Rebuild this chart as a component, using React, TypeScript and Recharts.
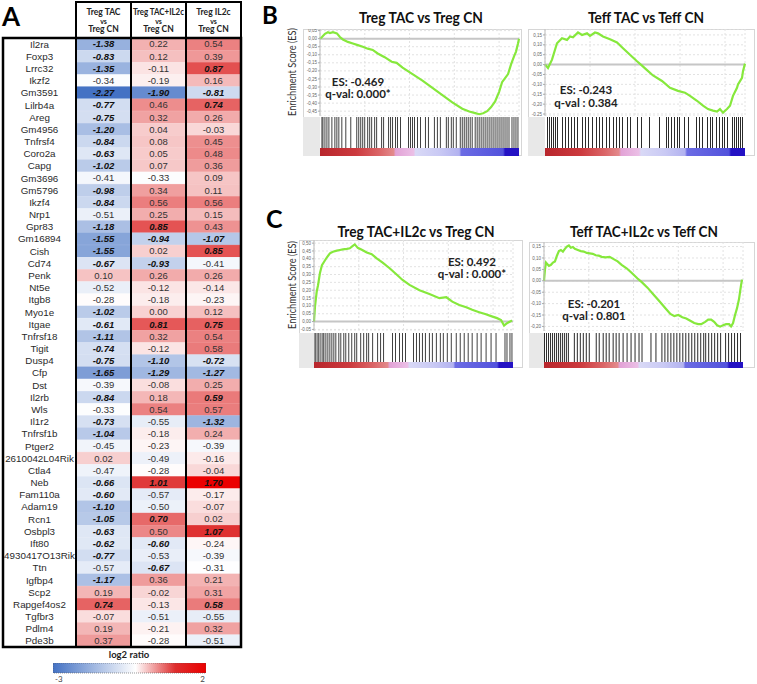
import React from 'react';
import { BarChart, Bar, XAxis, YAxis, LineChart, Line, CartesianGrid, ReferenceLine } from 'recharts';

// ---------------- Heatmap data ----------------
const genes = ['Il2ra','Foxp3','Lrrc32','Ikzf2','Gm3591','Lilrb4a','Areg','Gm4956','Tnfrsf4','Coro2a','Capg','Gm3696','Gm5796','Ikzf4','Nrp1','Gpr83','Gm16894','Cish','Cd74','Penk','Nt5e','Itgb8','Myo1e','Itgae','Tnfrsf18','Tigit','Dusp4','Cfp','Dst','Il2rb','Wls','Il1r2','Tnfrsf1b','Ptger2','2610042L04Rik','Ctla4','Neb','Fam110a','Adam19','Rcn1','Osbpl3','Ift80','4930417O13Rik','Ttn','Igfbp4','Scp2','Rapgef4os2','Tgfbr3','Pdlm4','Pde3b'];
const tregTAC = [-1.38,-0.83,-1.35,-0.34,-2.27,-0.77,-0.75,-1.20,-0.84,-0.63,-1.02,-0.41,-0.98,-0.84,-0.51,-1.18,-1.55,-1.55,-0.67,0.10,-0.52,-0.28,-1.02,-0.61,-1.11,-0.74,-0.75,-1.65,-0.39,-0.84,-0.33,-0.73,-1.04,-0.45,0.02,-0.47,-0.66,-0.60,-1.10,-1.05,-0.63,-0.62,-0.77,-0.57,-1.17,0.19,0.74,-0.07,0.19,0.37];
const tregTACIL2c = [0.22,0.12,-0.11,-0.19,-1.90,0.46,0.32,0.04,0.08,0.05,0.07,-0.33,0.34,0.56,0.25,0.85,-0.94,0.02,-0.93,0.26,-0.12,-0.18,0.00,0.81,0.32,-0.12,-1.10,-1.29,-0.08,0.18,0.54,-0.55,-0.18,-0.23,-0.49,-0.28,1.01,-0.57,-0.50,0.70,0.50,-0.60,-0.53,-0.67,0.36,-0.02,-0.13,-0.51,-0.21,-0.28];
const tregIL2c = [0.54,0.39,0.87,0.16,-0.81,0.74,0.26,-0.03,0.45,0.48,0.36,0.09,0.11,0.56,0.15,0.43,-1.07,0.85,-0.41,0.26,-0.14,-0.23,0.12,0.75,0.54,0.58,-0.72,-1.27,0.25,0.59,0.57,-1.32,0.24,-0.39,-0.16,-0.04,1.70,-0.17,-0.07,0.02,1.07,-0.24,-0.39,-0.31,0.21,0.31,0.58,-0.55,0.32,-0.51];
const sigTAC = [1,1,1,0,1,1,1,1,1,1,1,0,1,1,0,1,1,1,1,0,0,0,1,1,1,1,1,1,0,1,0,1,1,0,0,0,1,1,1,1,1,1,1,0,1,0,1,0,0,0];
const sigTACIL2c = [0,0,0,0,1,0,0,0,0,0,0,0,0,0,0,1,1,0,1,0,0,0,0,1,0,0,1,1,0,0,0,0,0,0,0,0,1,0,0,1,0,1,0,1,0,0,0,0,0,0];
const sigIL2c = [0,0,1,0,1,1,0,0,0,0,0,0,0,0,0,0,1,1,0,0,0,0,0,1,0,0,1,1,0,1,0,1,0,0,0,0,1,0,0,0,1,0,0,0,0,0,1,0,0,0];
const columnHeaders = [['Treg TAC', 'vs', 'Treg CN'], ['Treg TAC+IL2c', 'vs', 'Treg CN'], ['Treg IL2c', 'vs', 'Treg CN']];
const log2Range = [-3, 2];

// ---------------- GSEA data: [rank position (0-200), enrichment score] ----------------
const tregTacCurve = [[0,0],[2,0.01],[5,0.03],[8,0.04],[10,0.035],[13,0.04],[17,0.033],[20,0.01],[23,-0.005],[28,-0.02],[33,-0.03],[38,-0.04],[43,-0.05],[48,-0.062],[53,-0.07],[58,-0.092],[65,-0.115],[72,-0.143],[77,-0.15],[83,-0.18],[93,-0.22],[103,-0.26],[113,-0.305],[123,-0.35],[133,-0.395],[143,-0.435],[150,-0.452],[156,-0.462],[160,-0.469],[164,-0.463],[168,-0.45],[172,-0.425],[176,-0.39],[180,-0.33],[183,-0.27],[186,-0.245],[189,-0.22],[192,-0.16],[195,-0.11],[197,-0.08],[199,-0.03],[200,0.0]];
const tregTacHits = [2,3,5,7,9,12,15,17,19,22,26,31,37,39,41,43,45,48,50,52,55,57,62,64,69,71,73,76,78,81,89,91,93,95,98,101,106,109,115,118,121,127,129,132,134,137,141,143,145,147,149,151,153,156,158,160,162,164,166,168,170,172,174,176,178,180,182,184,186,188,190,193,195,197,199];
const teffTacCurve = [[0,0],[3,-0.017],[7,0.025],[10,0.075],[12,0.108],[17,0.133],[22,0.125],[25,0.142],[28,0.138],[33,0.163],[37,0.15],[42,0.158],[45,0.145],[50,0.162],[53,0.158],[58,0.142],[65,0.128],[72,0.112],[78,0.083],[85,0.05],[92,0.017],[97,-0.005],[102,-0.028],[108,-0.055],[117,-0.083],[125,-0.117],[133,-0.133],[140,-0.142],[145,-0.158],[152,-0.183],[158,-0.208],[163,-0.225],[168,-0.233],[172,-0.238],[175,-0.225],[178,-0.243],[182,-0.225],[185,-0.208],[188,-0.158],[192,-0.117],[193,-0.1],[197,-0.067],[198,-0.033],[200,0.005]];
const teffTacHits = [3,5,7,9,11,13,18,21,24,27,30,33,38,41,44,48,52,55,58,62,65,69,72,75,78,83,86,93,97,105,115,122,124,127,130,133,135,140,144,152,155,158,163,166,168,172,175,178,180,183,188,190,192,194,196,198];
const tregTacIl2cCurve = [[0,0],[1,0.095],[2.7,0.19],[4,0.23],[6,0.31],[8,0.36],[10,0.38],[13,0.41],[16,0.435],[19,0.445],[23,0.452],[26,0.456],[29,0.46],[33,0.463],[36,0.467],[39,0.482],[41,0.492],[44,0.47],[49,0.455],[53,0.44],[58,0.43],[63,0.403],[69,0.376],[76,0.34],[83,0.3],[89,0.265],[96,0.234],[106,0.2],[116,0.176],[126,0.149],[133,0.155],[139,0.127],[146,0.106],[153,0.091],[159,0.075],[166,0.06],[172,0.048],[178,0.035],[184,0.022],[188,0.01],[191,-0.025],[194,-0.01],[197,0.0],[199,0.008]];
const tregTacIl2cHits = [1,2,4,5,7,9,10,12,14,16,18,20,22,25,27,30,32,35,38,41,43,47,50,53,55,59,64,67,70,79,82,86,89,92,100,103,106,109,112,116,119,123,127,130,134,138,143,147,151,155,159,164,168,173,178,183,192,194,197,199];
const teffTacIl2cCurve = [[0,0],[1,0.05],[2,0.08],[3,0.075],[5,0.065],[7,0.07],[9,0.08],[11,0.085],[13,0.11],[15,0.13],[17,0.135],[19,0.128],[21,0.14],[23,0.15],[25,0.155],[27,0.145],[29,0.148],[31,0.14],[34,0.135],[37,0.13],[40,0.128],[43,0.122],[46,0.12],[49,0.118],[52,0.112],[55,0.11],[58,0.105],[62,0.103],[66,0.105],[70,0.095],[74,0.085],[78,0.07],[83,0.055],[88,0.035],[94,0.01],[98,-0.005],[104,-0.03],[110,-0.06],[116,-0.09],[122,-0.12],[127,-0.145],[131,-0.155],[135,-0.15],[139,-0.16],[143,-0.165],[147,-0.175],[151,-0.185],[155,-0.19],[158,-0.19],[162,-0.18],[165,-0.17],[168,-0.17],[171,-0.18],[174,-0.195],[177,-0.201],[180,-0.195],[183,-0.19],[186,-0.19],[188,-0.2],[190,-0.185],[192,-0.15],[194,-0.12],[196,-0.08],[197,-0.05],[198,-0.02],[199,0.005]];
const teffTacIl2cHits = [1,3,5,7,9,11,13,15,17,19,21,23,25,31,34,37,40,43,46,53,56,60,63,66,70,73,76,80,84,88,92,96,99,108,113,119,122,125,128,131,134,137,140,143,146,149,152,155,158,161,163,166,169,172,175,178,183,186,189,192,195,198];

const tickBL = [0.05,0,-0.05,-0.1,-0.15,-0.2,-0.25,-0.3,-0.35,-0.4,-0.45];
const tickBR = [0.15,0.1,0.05,0,-0.05,-0.1,-0.15,-0.2,-0.25];
const tickCL = [0.5,0.45,0.4,0.35,0.3,0.25,0.2,0.15,0.1,0.05,0,-0.05];
const tickCR = [0.15,0.1,0.05,0,-0.05,-0.1,-0.15,-0.2];

const rankStops = [[0,'#b8262c'],[0.18,'#cc3a3e'],[0.3,'#db6668'],[0.37,'#e38a8c'],[0.38,'#e2a2d6'],[0.47,'#ebbfe6'],[0.48,'#d9d9f6'],[0.6,'#c9c9f4'],[0.7,'#b2b2f0'],[0.71,'#6c6ce4'],[0.92,'#5252dc'],[0.93,'#2412c4'],[1,'#2412c4']];

const LATO = "Lato, 'Open Sans', sans-serif";
const ARIAL = "'Liberation Sans', Arial, sans-serif";

function mix(a: number[], b: number[], t: number) {
  return a.map((x, i) => Math.round(x + (b[i] - x) * t));
}
const rgb = (c: number[]) => `rgb(${c[0]},${c[1]},${c[2]})`;
const WHITE = [255, 255, 255], BLUE = [68, 114, 196], RED = [222, 45, 45], RED2 = [235, 0, 0];
function heatColor(v: number) {
  if (v <= -0.3) return rgb(mix(WHITE, BLUE, Math.min(1, (-0.3 - v) / 1.95)));
  if (v <= 1.1) return rgb(mix(WHITE, RED, (v + 0.3) / 1.4));
  return rgb(mix(RED, RED2, Math.min(1, (v - 1.1) / 0.6)));
}

const heatRows = genes.map((g, i) => ({
  gene: g, a: 1, b: 1, c: 1,
  v1: tregTAC[i], v2: tregTACIL2c[i], v3: tregIL2c[i],
  s1: sigTAC[i], s2: sigTACIL2c[i], s3: sigIL2c[i],
}));

const cellShape = (vk: string, sk: string) => (p: any) => {
  const v = p.payload[vk];
  const s = p.payload[sk];
  const col = heatColor(v);
  return (
    <g>
      <rect x={p.x} y={p.y} width={p.width} height={p.height} fill={col} stroke={col} strokeWidth={0.4} />
      <text x={p.x + p.width / 2} y={p.y + p.height / 2} dy="0.36em" textAnchor="middle" fontFamily={ARIAL}
        fontSize={9.5} fontWeight={s ? 700 : 400} fontStyle={s ? 'italic' : 'normal'} fill={s ? '#111' : '#333'}>
        {v.toFixed(2)}
      </text>
    </g>
  );
};

const geneTick = (p: any) => (
  <text x={39.5} y={p.y} dy="0.36em" textAnchor="middle" fontFamily={ARIAL} fontSize={9.8} fill="#2a2a2a">
    {p.payload.value}
  </text>
);

const fmt = (v: number) => v.toFixed(2).replace('.', ',');

function GseaPanel({ cfg }: { cfg: any }) {
  const { curve, hits, domain, ticks, fl, pl, pr, fr, esT, esB, hT, hB, bB } = cfg;
  const data = curve.map(([r, e]: number[]) => ({ r, e }));
  const hitData = hits.map((r: number) => ({ r, v: 1 }));
  return (
    <>
      <div style={{ position: 'absolute', left: fl, top: esT, width: fr - fl, height: bB - esT, border: '1px solid #d6d6d6', boxSizing: 'border-box' }} />
      <div style={{ position: 'absolute', left: fl, top: hT, width: pl - fl, height: bB - hT, background: '#e8e8e8' }} />
      <div style={{ position: 'absolute', left: fl, top: esT }}>
        <LineChart width={fr - fl} height={esB - esT} data={data} margin={{ top: 0, right: fr - pr, bottom: 0, left: 0 }}>
          <CartesianGrid stroke="#e2e2e2" strokeDasharray="2 2" />
          <XAxis type="number" dataKey="r" domain={[0, 200]} ticks={[45, 90, 135, 180]} hide />
          <YAxis type="number" domain={domain} ticks={ticks} interval={0} width={pl - fl} allowDataOverflow
            tick={{ fontSize: 4.5, fill: '#666', fontFamily: ARIAL }} tickFormatter={fmt}
            axisLine={{ stroke: '#bbb' }} tickLine={{ stroke: '#aaa' }} tickSize={2} tickMargin={1} />
          <ReferenceLine y={0} stroke="#c6c6c6" strokeWidth={2} />
          <Line type="linear" dataKey="e" stroke="#86e83c" strokeWidth={2.2} dot={false} isAnimationActive={false} />
        </LineChart>
      </div>
      <div style={{ position: 'absolute', left: fl, top: hT }}>
        <BarChart width={fr - fl} height={hB - hT} data={hitData} margin={{ top: 0, right: fr - pr, bottom: 0, left: pl - fl }}>
          <XAxis type="number" dataKey="r" domain={[0, 200]} hide />
          <YAxis type="number" domain={[0, 1]} hide />
          <Bar dataKey="v" barSize={1} fill="#2b2b2b" isAnimationActive={false} />
        </BarChart>
      </div>
      <div style={{ position: 'absolute', left: fl, top: hB }}>
        <BarChart layout="vertical" width={fr - fl} height={bB - hB} data={[{ k: 'rank', span: [0, 200] }]}
          margin={{ top: 0, right: fr - pr, bottom: 0, left: pl - fl }} barCategoryGap={0}>
          <XAxis type="number" domain={[0, 200]} hide />
          <YAxis type="category" dataKey="k" hide />
          <Bar dataKey="span" fill="url(#rankGrad)" isAnimationActive={false} />
        </BarChart>
      </div>
    </>
  );
}

const panels = [
  { curve: tregTacCurve, hits: tregTacHits, domain: [-0.48, 0.06], ticks: tickBL, fl: 303, pl: 320, pr: 519, fr: 522, esT: 29, esB: 116, hT: 117, hB: 148, bB: 156 },
  { curve: teffTacCurve, hits: teffTacHits, domain: [-0.26, 0.18], ticks: tickBR, fl: 528, pl: 545, pr: 745, fr: 755, esT: 29, esB: 116, hT: 117, hB: 148, bB: 156 },
  { curve: tregTacIl2cCurve, hits: tregTacIl2cHits, domain: [-0.06, 0.52], ticks: tickCL, fl: 299, pl: 314, pr: 513, fr: 523, esT: 240, esB: 331, hT: 333, hB: 362, bB: 368 },
  { curve: teffTacIl2cCurve, hits: teffTacIl2cHits, domain: [-0.22, 0.17], ticks: tickCR, fl: 529, pl: 544, pr: 743, fr: 755, esT: 242, esB: 331, hT: 333, hB: 362, bB: 368 },
];

const titles = [
  { t: 'Treg TAC vs Treg CN', x: 421, y: 23, len: 124 },
  { t: 'Teff TAC vs Teff CN', x: 646, y: 23, len: 116 },
  { t: 'Treg TAC+IL2c vs Treg CN', x: 416, y: 237, len: 157 },
  { t: 'Teff TAC+IL2c vs Teff CN', x: 644, y: 237, len: 148 },
];
const esTexts = [
  { a: 'ES: -0.469', b: 'q-val: 0.000*', x: 358, y1: 86, y2: 98 },
  { a: 'ES: -0.243', b: 'q-val : 0.384', x: 586, y1: 94, y2: 107 },
  { a: 'ES: 0.492', b: 'q-val : 0.000*', x: 472, y1: 266, y2: 278 },
  { a: 'ES: -0.201', b: 'q-val : 0.801', x: 594, y1: 308, y2: 320 },
];

export default function App() {
  const colCenters = [103.5, 158.5, 213.5];
  return (
    <div style={{ position: 'absolute', left: 0, top: 0, width: 757, height: 684, background: '#fff', overflow: 'hidden' }}>
      <svg width={0} height={0} style={{ position: 'absolute' }}>
        <defs>
          <linearGradient id="rankGrad" x1="0" y1="0" x2="1" y2="0">
            {rankStops.map(([o, c], i) => <stop key={i} offset={o as number} stopColor={c as string} />)}
          </linearGradient>
          <linearGradient id="log2Grad" x1="0" y1="0" x2="1" y2="0">
            <stop offset={0} stopColor="rgb(68,114,196)" />
            <stop offset={0.54} stopColor="#ffffff" />
            <stop offset={0.8} stopColor="rgb(222,45,45)" />
            <stop offset={1} stopColor="rgb(235,0,0)" />
          </linearGradient>
        </defs>
      </svg>

      {/* Heatmap */}
      <div style={{ position: 'absolute', left: 0, top: 0 }}>
        <BarChart layout="vertical" width={245} height={660} data={heatRows} barCategoryGap={0} barGap={0}
          margin={{ top: 38, right: 4, bottom: 13, left: 3 }}>
          <XAxis type="number" domain={[0, 3]} hide />
          <YAxis type="category" dataKey="gene" width={73} interval={0} tickSize={0} tickMargin={0}
            axisLine={false} tickLine={false} tick={geneTick} />
          <Bar dataKey="a" stackId="h" shape={cellShape('v1', 's1')} isAnimationActive={false} />
          <Bar dataKey="b" stackId="h" shape={cellShape('v2', 's2')} isAnimationActive={false} />
          <Bar dataKey="c" stackId="h" shape={cellShape('v3', 's3')} isAnimationActive={false} />
        </BarChart>
      </div>

      {/* log2 colour bar */}
      <div style={{ position: 'absolute', left: 53, top: 663 }}>
        <BarChart layout="vertical" width={153} height={21} data={[{ k: 'log2', span: log2Range }]}
          margin={{ top: 0, right: 0, bottom: 0, left: 0 }} barCategoryGap={0}>
          <XAxis type="number" domain={log2Range} ticks={log2Range} interval={0} height={11} axisLine={false} tickLine={false}
            tickSize={0} tickMargin={0}
            tick={(p: any) => (
              <text x={p.payload.value < 0 ? p.x + 2 : p.x - 1} y={p.y + 9} textAnchor={p.payload.value < 0 ? 'start' : 'end'}
                fontFamily={LATO} fontSize={8} fill="#444">{p.payload.value}</text>
            )} />
          <YAxis type="category" dataKey="k" hide />
          <Bar dataKey="span" fill="url(#log2Grad)" stroke="#555" strokeWidth={0.6} strokeDasharray="1 1" isAnimationActive={false} />
        </BarChart>
      </div>

      {panels.map((p, i) => <GseaPanel key={i} cfg={p} />)}

      {/* Text + frames overlay */}
      <svg width={757} height={684} style={{ position: 'absolute', left: 0, top: 0, pointerEvents: 'none' }}>
        {/* heatmap frame */}
        <rect x={76} y={2} width={165} height={36} fill="none" stroke="#000" strokeWidth={2} />
        <rect x={3} y={38} width={238} height={609} fill="none" stroke="#000" strokeWidth={2.5} />
        <line x1={76} y1={38} x2={76} y2={647} stroke="#000" strokeWidth={2} />
        <line x1={131} y1={2} x2={131} y2={647} stroke="#000" strokeWidth={2} />
        <line x1={186} y1={2} x2={186} y2={647} stroke="#000" strokeWidth={2} />
        {columnHeaders.map((h, i) => (
          <g key={i} fontFamily={LATO} fontWeight={700} fill="#222" textAnchor="middle">
            <text x={colCenters[i]} y={15} fontSize={8.5} textLength={h[0].length > 10 ? 51 : undefined} lengthAdjust="spacingAndGlyphs">{h[0]}</text>
            <text x={colCenters[i]} y={24} fontSize={7}>{h[1]}</text>
            <text x={colCenters[i]} y={32} fontSize={8.5}>{h[2]}</text>
          </g>
        ))}
        <text x={129} y={658} textAnchor="middle" fontFamily={LATO} fontWeight={700} fontSize={9.5} fill="#222">log2 ratio</text>

        {/* panel letters */}
        <text x={2} y={26} fontFamily={LATO} fontWeight={700} fontSize={26} fill="#000">A</text>
        <text x={262} y={24} fontFamily={LATO} fontWeight={700} fontSize={24} fill="#000">B</text>
        <text x={266} y={228} fontFamily={LATO} fontWeight={700} fontSize={25} fill="#000">C</text>

        {/* y labels */}
        <text transform="translate(296,72) rotate(-90)" textAnchor="middle" fontFamily={LATO} fontSize={11.5} fill="#333" textLength={88} lengthAdjust="spacingAndGlyphs">Enrichment Score (ES)</text>
        <text transform="translate(296,285) rotate(-90)" textAnchor="middle" fontFamily={LATO} fontSize={11.5} fill="#333" textLength={88} lengthAdjust="spacingAndGlyphs">Enrichment Score (ES)</text>

        {titles.map((t, i) => (
          <text key={i} x={t.x} y={t.y} textAnchor="middle" fontFamily={LATO} fontWeight={700} fontSize={15.5} fill="#111"
            textLength={t.len} lengthAdjust="spacingAndGlyphs">{t.t}</text>
        ))}
        {esTexts.map((e, i) => (
          <g key={i} fontFamily={LATO} fontWeight={700} fontSize={11.5} fill="#222" textAnchor="middle">
            <text x={e.x} y={e.y1}>{e.a}</text>
            <text x={e.x} y={e.y2}>{e.b}</text>
          </g>
        ))}
      </svg>
    </div>
  );
}
